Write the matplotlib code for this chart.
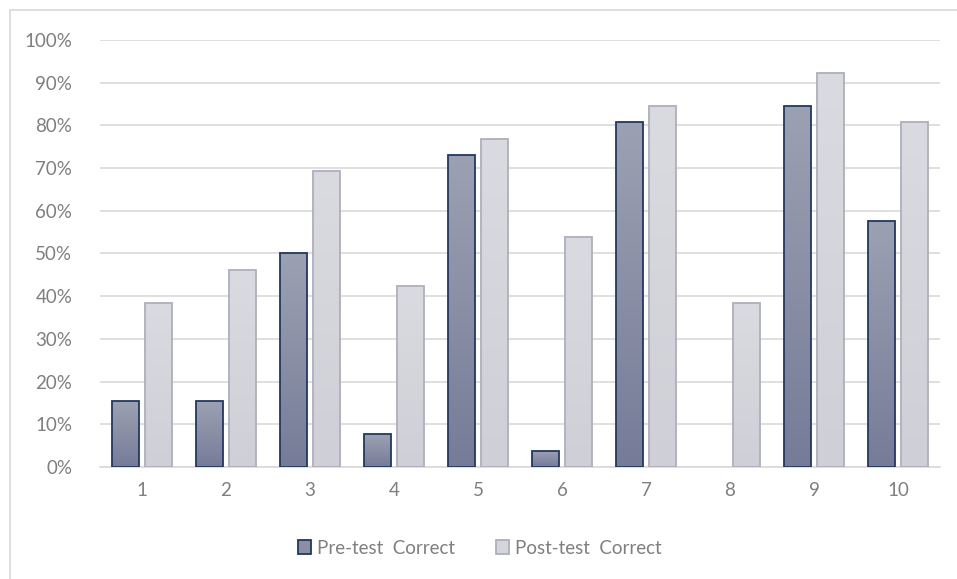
import numpy as np
import matplotlib.pyplot as plt
from matplotlib.patches import Rectangle
from matplotlib.colors import LinearSegmentedColormap
from matplotlib.ticker import PercentFormatter

plt.rcParams['font.family'] = ['Lato', 'DejaVu Sans']

questions = ['1', '2', '3', '4', '5', '6', '7', '8', '9', '10']
pre_test = [15.38, 15.38, 50.0, 7.69, 73.08, 3.85, 80.77, 0.0, 84.62, 57.69]
post_test = [38.46, 46.15, 69.23, 42.31, 76.92, 53.85, 84.62, 38.46, 92.31, 80.77]

fig = plt.figure(figsize=(9.57, 5.79), dpi=100)
ax = fig.add_axes([100 / 957, 1 - 467 / 579, 840 / 957, 427 / 579])

# chart frame, cut off at right and bottom
fig.patches.append(Rectangle((10 / 957, -0.1), 1.2, 1 - 10 / 579 + 0.1,
                             transform=fig.transFigure, fill=False,
                             edgecolor='#d9d9d9', linewidth=1.2))

x = np.arange(len(questions))
w = 0.32
off = 0.195

pre_cmap = LinearSegmentedColormap.from_list('pre', ['#767c98', '#9ca1b2'])
post_cmap = LinearSegmentedColormap.from_list('post', ['#cfd0d7', '#dadbe0'])

pre_bars = ax.bar(x - off, pre_test, w, color='#8a8fa6', edgecolor='#1f3864',
                  linewidth=0, zorder=3, label='Pre-test  Correct')
post_bars = ax.bar(x + off, post_test, w, color='#d5d6dc', edgecolor='#aeafbb',
                   linewidth=0, zorder=3, label='Post-test  Correct')

grad = np.linspace(0, 1, 256).reshape(-1, 1)
for bars, cmap in ((pre_bars, pre_cmap), (post_bars, post_cmap)):
    for b in bars:
        if b.get_height() <= 0:
            continue
        x0, y0 = b.get_x(), b.get_y()
        im = ax.imshow(grad, cmap=cmap, aspect='auto', origin='lower',
                       extent=[x0, x0 + b.get_width(), y0, y0 + b.get_height()],
                       zorder=3.5)
        im.set_clip_path(b)
        edge = Rectangle((x0, y0), b.get_width(), b.get_height(), fill=False,
                         edgecolor=b.get_edgecolor(), linewidth=1.3, zorder=4)
        ax.add_patch(edge)

ax.set_xlim(-0.5, len(questions) - 0.5)
ax.set_ylim(0, 100)
ax.set_xticks(x)
ax.set_xticklabels(questions)
ax.set_yticks(np.arange(0, 101, 10))
ax.yaxis.set_major_formatter(PercentFormatter(decimals=0))

ax.grid(axis='y', color='#d9d9d9', linewidth=1.2, zorder=0)
for s in ('top', 'right', 'left'):
    ax.spines[s].set_visible(False)
ax.spines['bottom'].set_color('#d9d9d9')
ax.spines['bottom'].set_linewidth(1.2)
ax.tick_params(axis='both', length=0, colors='#7f7f7f', labelsize=13.5)
ax.tick_params(axis='x', pad=11)
ax.tick_params(axis='y', pad=20)

pre_handle = Rectangle((0, 0), 1, 1, facecolor='#8a8fa6', edgecolor='#1f3864',
                       linewidth=1.3)
post_handle = Rectangle((0, 0), 1, 1, facecolor='#d5d6dc', edgecolor='#aeafbb',
                        linewidth=1.3)
leg = fig.legend(handles=[pre_handle, post_handle],
                 labels=['Pre-test  Correct', 'Post-test  Correct'], loc='center',
                 bbox_to_anchor=(480 / 957, 1 - 548 / 579), ncol=2,
                 frameon=False, fontsize=13.5, handlelength=0.7,
                 handleheight=0.7, handletextpad=0.3, columnspacing=2.2)
for t in leg.get_texts():
    t.set_color('#7f7f7f')

fig.savefig('out.png', dpi=100)
